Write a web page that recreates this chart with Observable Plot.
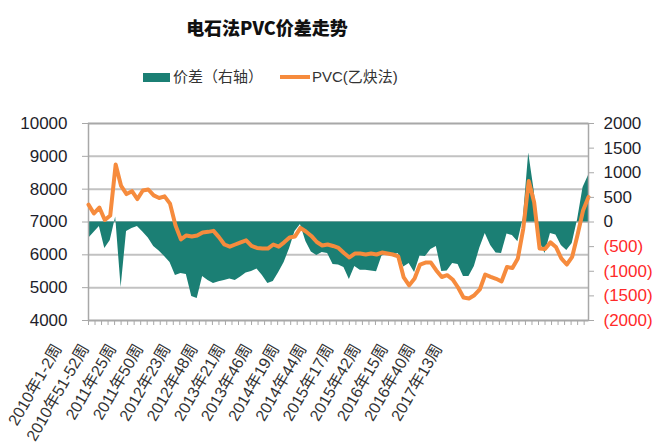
<!DOCTYPE html>
<html>
<head>
<meta charset="utf-8">
<script src="https://cdn.jsdelivr.net/npm/d3@7"></script>
<script src="https://cdn.jsdelivr.net/npm/@observablehq/plot@0.6"></script>
<style>
  body { margin: 0; background: #fff; }
  #wrap { position: relative; width: 656px; height: 448px; font-family: "Liberation Sans", "Noto Sans CJK SC", sans-serif; }
  #title { position: absolute; left: 0; top: 14px; width: 534px; line-height: 26px; text-align: center;
           font-family: "Noto Sans CJK SC", sans-serif; font-weight: 900; font-size: 18px; color: #111; }
  .lg { position: absolute; font-size: 15px; line-height: 18px; color: #333; top: 68px; white-space: nowrap; }
  .sw { position: absolute; }
  #chart { position: absolute; left: 0; top: 0; }
</style>
</head>
<body>
<div id="wrap">
  <div id="chart"></div>
  <div id="title">电石法PVC价差走势</div>
  <div class="sw" style="left:143px;top:73px;width:27px;height:9px;background:#1b7f74"></div>
  <div class="lg" style="left:173px">价差（右轴）</div>
  <div class="sw" style="left:280px;top:75px;width:30px;height:4px;background:#f68b3d"></div>
  <div class="lg" style="left:312px">PVC(乙炔法)</div>
</div>
<script>
// category index (week number since 2010年1-2周), sampled every 5 categories
const weeks = d3.range(0, 461, 5);
// PVC(乙炔法) price, left axis
const pvc = [7530,7260,7440,7060,7200,8750,8100,7850,7940,7700,
             7960,7990,7810,7730,7780,7560,6900,6470,6590,6560,
             6590,6680,6700,6730,6540,6315,6250,6315,6380,6440,
             6270,6210,6190,6190,6315,6250,6380,6530,6560,6820,
             6710,6575,6390,6285,6315,6270,6210,6055,5920,6040,
             6040,6010,6040,6010,6070,6040,6010,5950,5310,5070,
             5280,5705,5765,5765,5525,5325,5380,5250,5005,4700,
             4670,4770,4945,5400,5330,5270,5190,5630,5600,5890,
             6800,8250,7600,6190,6180,6380,6240,5890,5705,5940,
             6620,7350,7760];
// 价差 (spread), right axis
const diff = [-335,-213,-91,-538,-376,100,-1330,-193,-132,-91,
              -203,-325,-497,-589,-700,-822,-1086,-1045,-1066,-1512,
              -1553,-1106,-1188,-1248,-1214,-1188,-1157,-1188,-1116,-1035,
              -1005,-954,-1086,-1248,-1208,-1025,-822,-538,-193,-51,
              -396,-609,-680,-619,-640,-863,-873,-924,-1167,-903,
              -978,-978,-995,-1011,-690,-650,-670,-640,-914,-842,
              -1025,-690,-700,-558,-497,-1005,-995,-842,-863,-1106,
              -1106,-903,-528,-233,-477,-629,-640,-244,-274,-402,
              71,1400,640,-396,-640,-233,-264,-477,-579,-436,
              51,700,944];
// x tick labels and their category positions
const xLabels = ["2010年1-2周","2010年51-52周","2011年25周","2011年50周","2012年23周","2012年48周",
                 "2013年21周","2013年46周","2014年19周","2014年44周","2015年17周","2015年42周",
                 "2016年15周","2016年40周","2017年13周"];
const xLabelWeeks = [0,25,50,75,100,125,150,175,200,225,250,275,300,325,350];
const leftTicks = [4000,5000,6000,7000,8000,9000,10000];
const rightTicks = [2000,1500,1000,500,0,-500,-1000,-1500,-2000];

// right axis maps onto left axis: 0 <-> 7000, 2000 <-> 10000
const toLeft = r => 7000 + r * 1.5;
const rightFmt = r => r < 0 ? `(${-r})` : `${r}`;

const data = weeks.map((w, i) => ({w, pvc: pvc[i], diff: diff[i]}));
const gray = "#a8a8a8";
const font = "'Liberation Sans', 'Noto Sans CJK SC', sans-serif";

const chart = Plot.plot({
  width: 656, height: 448,
  marginTop: 123, marginBottom: 128, marginLeft: 88, marginRight: 68,
  x: {domain: [0, 460]},
  y: {domain: [4000, 10000]},
  style: {fontFamily: font, background: "transparent", overflow: "visible"},
  marks: [
    Plot.gridY(leftTicks, {stroke: "#c2c2c2", strokeWidth: 2, strokeOpacity: 1}),
    Plot.areaY(data, {x: "w", y1: d => 7000, y2: d => toLeft(d.diff), fill: "#1b7f74"}),
    Plot.frame({stroke: gray, strokeWidth: 1.5}),
    Plot.lineY(data, {x: "w", y: "pvc", stroke: "#f68b3d", strokeWidth: 4, strokeLinejoin: "round"}),
    // left axis
    Plot.axisY({ticks: leftTicks, tickSize: 6, tickFormat: () => "", color: gray, label: null}),
    Plot.axisY({ticks: leftTicks, tickSize: 0, tickPadding: 21, tickFormat: d => String(d),
                fontSize: 17, color: "#1e1e2a", label: null}),
    // right axis
    Plot.axisY({anchor: "right", ticks: rightTicks.map(toLeft), tickSize: 5, tickFormat: () => "", color: gray, label: null}),
    Plot.axisY({anchor: "right", ticks: rightTicks.filter(r => r >= 0).map(toLeft), tickSize: 0, tickPadding: 15,
                tickFormat: v => rightFmt(Math.round((v - 7000) / 1.5)), fontSize: 17, color: "#1e1e2a", label: null}),
    Plot.axisY({anchor: "right", ticks: rightTicks.filter(r => r < 0).map(toLeft), tickSize: 0, tickPadding: 15,
                tickFormat: v => rightFmt(Math.round((v - 7000) / 1.5)), fontSize: 17, color: "#ff2a2a", label: null}),
    // bottom category ticks
    Plot.axisX({ticks: d3.range(0, 461, 6), tickSize: 5, tickFormat: () => "", color: gray, label: null}),
    // rotated category labels
    Plot.text(xLabels, {x: (d, i) => xLabelWeeks[i], frameAnchor: "bottom", text: d => d,
                        rotate: -60, textAnchor: "end", lineAnchor: "top", dx: -36, dy: 22,
                        fontSize: 16, fill: "#333"})
  ]
});
document.getElementById("chart").appendChild(chart);
</script>
</body>
</html>
